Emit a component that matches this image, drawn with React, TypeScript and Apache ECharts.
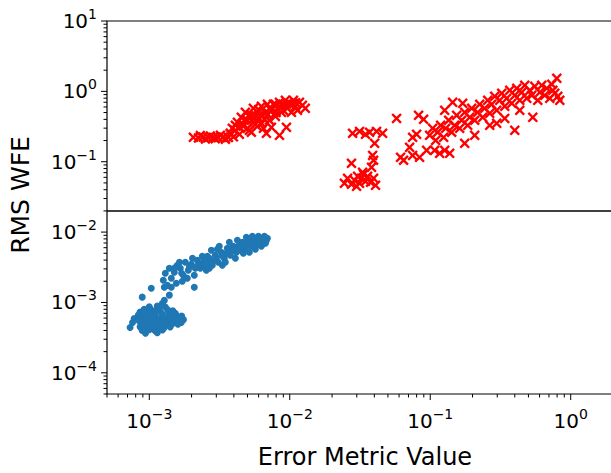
import React, { useEffect, useRef } from "react";
import * as echarts from "echarts";

const X_MIN = 5e-4;
const X_MAX = 2;
const Y_MIN = 5e-5;
const Y_MAX = 10;
const THRESHOLD = 0.02;

const xTitle = "Error Metric Value";
const yTitle = "RMS WFE";

const xMajorTicks = [1e-3, 1e-2, 1e-1, 1];
const xMinorTicks = [
  5e-4, 6e-4, 7e-4, 8e-4, 9e-4,
  2e-3, 3e-3, 4e-3, 5e-3, 6e-3, 7e-3, 8e-3, 9e-3,
  2e-2, 3e-2, 4e-2, 5e-2, 6e-2, 7e-2, 8e-2, 9e-2,
  2e-1, 3e-1, 4e-1, 5e-1, 6e-1, 7e-1, 8e-1, 9e-1,
  2,
];
const yMajorTicks = [1e-4, 1e-3, 1e-2, 1e-1, 1, 10];
const yMinorTicks = [
  5e-5, 6e-5, 7e-5, 8e-5, 9e-5,
  2e-4, 3e-4, 4e-4, 5e-4, 6e-4, 7e-4, 8e-4, 9e-4,
  2e-3, 3e-3, 4e-3, 5e-3, 6e-3, 7e-3, 8e-3, 9e-3,
  2e-2, 3e-2, 4e-2, 5e-2, 6e-2, 7e-2, 8e-2, 9e-2,
  2e-1, 3e-1, 4e-1, 5e-1, 6e-1, 7e-1, 8e-1, 9e-1,
  2, 3, 4, 5, 6, 7, 8, 9,
];

// Red "x" markers: left group
const redLeft: [number, number][] = [
  [2.06e-3, 0.222], [2.24e-3, 0.218], [2.42e-3, 0.224], [2.63e-3, 0.22], [2.86e-3, 0.223],
  [3.1e-3, 0.219], [3.37e-3, 0.225], [3.66e-3, 0.221], [3.97e-3, 0.226],
  [2.31e-3, 0.236], [2.72e-3, 0.232], [3.21e-3, 0.238], [3.78e-3, 0.25],
  [2.51e-3, 0.21], [2.95e-3, 0.212], [3.48e-3, 0.209],
  [3.78e-3, 0.253], [3.9e-3, 0.298], [4.1e-3, 0.279], [4.24e-3, 0.363], [4.38e-3, 0.245],
  [4.52e-3, 0.427], [4.67e-3, 0.318], [4.83e-3, 0.503], [4.99e-3, 0.388], [5.16e-3, 0.279],
  [5.33e-3, 0.456], [5.33e-3, 0.262], [5.51e-3, 0.574], [5.69e-3, 0.34], [5.88e-3, 0.503],
  [6.08e-3, 0.413], [6.28e-3, 0.612], [6.49e-3, 0.298], [6.71e-3, 0.487], [6.82e-3, 0.253],
  [6.93e-3, 0.654], [7.16e-3, 0.388], [7.4e-3, 0.537], [7.65e-3, 0.654], [7.9e-3, 0.441],
  [8.17e-3, 0.574], [8.45e-3, 0.698], [8.45e-3, 0.237], [8.72e-3, 0.503], [9.01e-3, 0.654],
  [9.31e-3, 0.745], [9.47e-3, 0.308], [9.62e-3, 0.574], [9.95e-3, 0.675], [1.028e-2, 0.503],
  [1.062e-2, 0.745], [1.098e-2, 0.612], [1.135e-2, 0.537], [1.172e-2, 0.698], [1.23e-2, 0.633],
  [1.29e-2, 0.574],
  [4.75e-3, 0.388], [5.6e-3, 0.413], [6.28e-3, 0.456], [7.16e-3, 0.574], [5.88e-3, 0.318],
  [4.99e-3, 0.298], [7.9e-3, 0.654], [9.01e-3, 0.537], [1.028e-2, 0.654], [4.38e-3, 0.308],
  [7.4e-3, 0.308], [4.6e-3, 0.35], [5.1e-3, 0.45], [5.5e-3, 0.36], [6.0e-3, 0.55],
  [6.6e-3, 0.4], [7.0e-3, 0.47], [8.0e-3, 0.5], [8.6e-3, 0.6], [9.5e-3, 0.66],
  [1.1e-2, 0.69], [4.1e-3, 0.33], [6.3e-3, 0.35],
];

// Red "x" markers: right group
const redRight: [number, number][] = [
  [0.0245, 0.0493], [0.0258, 0.0581], [0.0275, 0.0478], [0.0289, 0.0544], [0.0304, 0.062],
  [0.0314, 0.0493], [0.0324, 0.0581], [0.0335, 0.0662], [0.0346, 0.0527], [0.0358, 0.062],
  [0.0376, 0.051], [0.0395, 0.0581], [0.0408, 0.0462], [0.0299, 0.0447], [0.033, 0.0707],
  [0.0275, 0.0949], [0.0382, 0.0833], [0.0395, 0.105], [0.0389, 0.123], [0.0402, 0.1826],
  [0.028, 0.253], [0.0314, 0.27], [0.0346, 0.245], [0.037, 0.262], [0.0415, 0.27], [0.0458, 0.253],
  [0.0576, 0.413], [0.0615, 0.1155], [0.0646, 0.105], [0.0713, 0.1602], [0.0749, 0.123],
  [0.0749, 0.222], [0.08, 0.245], [0.0826, 0.456], [0.0897, 0.4], [0.084, 0.1155],
  [0.0943, 0.145], [0.1075, 0.145], [0.1167, 0.1316],
  [0.099, 0.237], [0.104, 0.298], [0.1093, 0.201], [0.1129, 0.262], [0.1186, 0.329],
  [0.1246, 0.222], [0.1288, 0.298], [0.1352, 0.388], [0.1421, 0.262], [0.1492, 0.329],
  [0.1542, 0.456], [0.162, 0.298], [0.1674, 0.388], [0.1759, 0.503], [0.1848, 0.329],
  [0.191, 0.427], [0.1973, 0.574], [0.2073, 0.388], [0.2177, 0.503], [0.2249, 0.654],
  [0.2363, 0.427], [0.2441, 0.574], [0.2566, 0.745], [0.2651, 0.487], [0.2739, 0.654],
  [0.2877, 0.849], [0.2973, 0.537], [0.3124, 0.745], [0.3228, 0.937], [0.3391, 0.612],
  [0.3504, 0.795], [0.3681, 1.033], [0.3804, 0.675], [0.3996, 0.877], [0.4129, 1.103],
  [0.4338, 0.745], [0.4483, 0.968], [0.4709, 1.217], [0.4867, 0.795], [0.5112, 1.033],
  [0.5283, 0.877], [0.5549, 1.178], [0.583, 0.745], [0.6024, 0.968], [0.6223, 1.217],
  [0.6539, 0.877], [0.6755, 1.103], [0.7096, 0.795], [0.7334, 1.257], [0.7702, 0.937],
  [0.7959, 1.53], [0.8091, 0.849], [0.8362, 0.745], [0.7455, 1.033],
  [0.1267, 0.537], [0.1444, 0.698], [0.1702, 0.675],
  [0.1267, 0.145], [0.1375, 0.1316], [0.1759, 0.1826], [0.2073, 0.237], [0.2973, 0.351],
  [0.3996, 0.279], [0.537, 0.427], [0.4338, 0.537], [0.3391, 0.413], [0.2651, 0.329],
];

// Blue dots: lower cluster
const blueLow: [number, number][] = [
  [1.28e-3, 1.07e-3], [1.24e-3, 9.75e-4],
  [1.0e-3, 8.7e-4], [1.14e-3, 8.9e-4], [1.3e-3, 8.6e-4],
  [9.2e-4, 8.0e-4], [1.03e-3, 7.9e-4], [1.18e-3, 8.1e-4], [1.35e-3, 7.9e-4], [1.47e-3, 7.6e-4],
  [8.6e-4, 7.3e-4], [9.7e-4, 7.2e-4], [1.09e-3, 7.3e-4], [1.22e-3, 7.1e-4], [1.37e-3, 7.3e-4], [1.53e-3, 7.0e-4],
  [8.35e-4, 6.6e-4], [9.05e-4, 6.5e-4], [1.0e-3, 6.6e-4], [1.1e-3, 6.5e-4], [1.24e-3, 6.7e-4],
  [1.39e-3, 6.5e-4], [1.55e-3, 6.6e-4], [1.7e-3, 6.4e-4],
  [7.8e-4, 5.9e-4], [8.77e-4, 6.0e-4], [9.68e-4, 5.9e-4], [1.07e-3, 6.1e-4], [1.18e-3, 5.9e-4],
  [1.3e-3, 6.0e-4], [1.43e-3, 5.8e-4], [1.6e-3, 6.0e-4], [1.75e-3, 5.7e-4],
  [8.5e-4, 5.4e-4], [9.4e-4, 5.5e-4], [1.03e-3, 5.3e-4], [1.14e-3, 5.4e-4], [1.26e-3, 5.5e-4],
  [1.39e-3, 5.3e-4], [1.53e-3, 5.4e-4], [1.69e-3, 5.2e-4],
  [8.9e-4, 4.9e-4], [9.85e-4, 5.0e-4], [1.09e-3, 4.8e-4], [1.2e-3, 4.9e-4], [1.32e-3, 4.8e-4],
  [1.46e-3, 5.0e-4], [1.6e-3, 4.9e-4],
  [7.3e-4, 4.4e-4], [8.6e-4, 4.5e-4], [9.5e-4, 4.4e-4], [1.05e-3, 4.5e-4], [1.16e-3, 4.3e-4],
  [1.28e-3, 4.4e-4], [1.41e-3, 4.5e-4],
  [8.9e-4, 4.0e-4], [1.0e-3, 4.1e-4], [1.1e-3, 3.95e-4], [1.24e-3, 4.05e-4],
  [9.4e-4, 3.65e-4], [1.14e-3, 3.7e-4],
  [7.6e-4, 5.2e-4], [1.12e-3, 7.7e-4], [1.45e-3, 6.2e-4],
];

// Blue dots: upper band
const blueHigh: [number, number][] = [
  [8.91e-4, 1.19e-3], [1.033e-3, 1.59e-3], [1.389e-3, 1.27e-3], [1.435e-3, 1.64e-3],
  [1.258e-3, 2.07e-3], [1.3e-3, 2.6e-3], [1.344e-3, 1.75e-3], [1.389e-3, 3.06e-3],
  [1.435e-3, 2.21e-3], [1.507e-3, 2.69e-3], [1.558e-3, 1.87e-3], [1.279e-3, 1.64e-3],
  [1.584e-3, 3.38e-3], [1.663e-3, 3.06e-3], [1.718e-3, 2.0e-3], [1.747e-3, 2.43e-3],
  [1.805e-3, 3.72e-3], [1.865e-3, 2.21e-3], [1.896e-3, 2.87e-3], [1.992e-3, 3.49e-3],
  [2.091e-3, 2.43e-3], [2.091e-3, 1.64e-3], [2.126e-3, 3.06e-3], [2.197e-3, 3.97e-3],
  [2.308e-3, 3.06e-3], [2.385e-3, 4.53e-3], [2.424e-3, 3.72e-3], [2.505e-3, 3.27e-3],
  [2.547e-3, 2.87e-3], [2.676e-3, 4.25e-3], [2.676e-3, 3.06e-3], [2.765e-3, 5.51e-3],
  [2.811e-3, 3.38e-3], [2.952e-3, 4.68e-3], [3.05e-3, 5.7e-3], [3.1e-3, 3.72e-3],
  [3.257e-3, 5.16e-3], [3.311e-3, 3.38e-3], [3.421e-3, 4.25e-3], [3.478e-3, 3.72e-3],
  [3.595e-3, 5.89e-3], [3.715e-3, 7.17e-3], [3.777e-3, 4.68e-3], [3.966e-3, 6.28e-3],
  [4.099e-3, 4.25e-3], [4.166e-3, 5.16e-3], [4.376e-3, 6.49e-3], [4.448e-3, 5.51e-3],
  [4.597e-3, 7.17e-3], [4.673e-3, 5.0e-3], [4.829e-3, 5.7e-3], [4.909e-3, 8.44e-3],
  [5.073e-3, 7.65e-3], [5.157e-3, 5.16e-3], [5.33e-3, 6.28e-3], [5.6e-3, 8.17e-3],
  [5.69e-3, 5.7e-3], [5.88e-3, 6.72e-3], [5.98e-3, 8.71e-3], [6.18e-3, 8.17e-3],
  [6.28e-3, 6.28e-3], [6.49e-3, 6.94e-3], [6.6e-3, 8.71e-3], [6.82e-3, 7.65e-3],
  [6.93e-3, 8.17e-3],
  [1.64e-3, 3.72e-3], [2.03e-3, 4.25e-3], [2.27e-3, 3.49e-3], [2.59e-3, 4.53e-3],
  [2.9e-3, 3.97e-3], [3.15e-3, 6.28e-3], [3.54e-3, 5.0e-3], [3.9e-3, 5.51e-3],
  [4.24e-3, 7.65e-3], [4.75e-3, 6.72e-3], [5.24e-3, 6.94e-3], [5.51e-3, 7.4e-3],
  [5.79e-3, 7.65e-3], [6.08e-3, 7.17e-3], [6.39e-3, 7.9e-3], [6.71e-3, 6.94e-3],
  [5.42e-3, 8.71e-3], [4.52e-3, 5.89e-3],
  [1.52e-3, 3.1e-3], [1.7e-3, 2.6e-3], [1.93e-3, 3.2e-3], [2.2e-3, 3.3e-3], [2.45e-3, 4.0e-3],
  [2.7e-3, 3.7e-3], [3.0e-3, 4.3e-3], [3.3e-3, 4.6e-3], [3.65e-3, 5.4e-3], [4.0e-3, 5.8e-3],
  [4.4e-3, 6.1e-3], [4.9e-3, 6.3e-3], [5.5e-3, 6.5e-3], [6.0e-3, 8.0e-3], [2.55e-3, 3.5e-3],
];

const FONT = "DejaVu Sans";
const X_SYMBOL =
  "path://M0,1.6 L1.6,0 L5,3.4 L8.4,0 L10,1.6 L6.6,5 L10,8.4 L8.4,10 L5,6.6 L1.6,10 L0,8.4 L3.4,5 Z";

function expLabel(v: number, majors: number[]): string {
  const isMajor = majors.some((m) => Math.abs(Math.log10(m) - Math.log10(v)) < 1e-6);
  if (!isMajor) return "";
  const e = Math.round(Math.log10(v));
  const s = e < 0 ? "\u2212" + String(-e) : String(e);
  return "{b|10}{s|" + s + "}";
}

const labelRich = {
  b: { fontSize: 20, fontFamily: FONT, color: "#000", padding: [4, 0, 4, 0] },
  s: { fontSize: 14, fontFamily: FONT, color: "#000", verticalAlign: "top" },
};

function tickSeries(values: number[], len: number, axis: "x" | "y") {
  return {
    type: "custom",
    coordinateSystem: "cartesian2d",
    silent: true,
    clip: false,
    z: 20,
    data: values.map((v) => (axis === "x" ? [v, Y_MIN] : [X_MIN, v])),
    renderItem: (_p: any, api: any) => {
      const pt = api.coord([api.value(0), api.value(1)]);
      const shape =
        axis === "x"
          ? { x1: pt[0], y1: pt[1], x2: pt[0], y2: pt[1] + len }
          : { x1: pt[0] - len, y1: pt[1], x2: pt[0], y2: pt[1] };
      return { type: "line", shape, style: { stroke: "#000", lineWidth: 1 } };
    },
  };
}

export default function App() {
  const ref = useRef<HTMLDivElement>(null);
  useEffect(() => {
    if (!ref.current) return;
    const chart = echarts.init(ref.current, undefined, { renderer: "svg" });
    chart.setOption({
      animation: false,
      backgroundColor: "#fff",
      grid: {
        left: 107,
        top: 21,
        width: 506,
        height: 373,
        show: true,
        borderColor: "#000",
        borderWidth: 1.2,
        backgroundColor: "transparent",
        outerBoundsMode: "none",
        containLabel: false,
      },
      xAxis: {
        type: "log",
        logBase: 10,
        min: X_MIN,
        max: X_MAX,
        axisLine: { show: false },
        axisTick: { show: false },
        splitLine: { show: false },
        axisLabel: {
          margin: 13,
          formatter: (v: number) => expLabel(v, xMajorTicks),
          rich: labelRich,
        },
      },
      yAxis: {
        type: "log",
        logBase: 10,
        min: Y_MIN,
        max: Y_MAX,
        axisLine: { show: false },
        axisTick: { show: false },
        splitLine: { show: false },
        axisLabel: {
          margin: 10,
          formatter: (v: number) => expLabel(v, yMajorTicks),
          rich: labelRich,
        },
      },
      graphic: [
        {
          type: "text",
          x: 365,
          y: 457,
          style: {
            text: xTitle,
            fontSize: 24,
            fontFamily: FONT,
            fill: "#000",
            align: "center",
            verticalAlign: "middle",
          },
        },
        {
          type: "text",
          x: 20,
          y: 195,
          rotation: Math.PI / 2,
          style: {
            text: yTitle,
            fontSize: 25,
            fontFamily: FONT,
            fill: "#000",
            align: "center",
            verticalAlign: "middle",
          },
        },
      ],
      series: [
        {
          type: "scatter",
          name: "fail",
          data: [...redLeft, ...redRight],
          symbol: X_SYMBOL,
          symbolSize: 10.5,
          itemStyle: { color: "#ff0000", opacity: 1 },
          z: 5,
          markLine: {
            silent: true,
            symbol: ["none", "none"],
            label: { show: false },
            lineStyle: { color: "#000", width: 1.5, type: "solid" },
            data: [{ yAxis: THRESHOLD }],
          },
        },
        {
          type: "scatter",
          name: "pass",
          data: [...blueLow, ...blueHigh],
          symbol: "circle",
          symbolSize: 7,
          itemStyle: { color: "#1f77b4", opacity: 1 },
          z: 5,
        },
        tickSeries(xMajorTicks, 6, "x"),
        tickSeries(xMinorTicks, 3.5, "x"),
        tickSeries(yMajorTicks, 6, "y"),
        tickSeries(yMinorTicks, 3.5, "y"),
      ],
    });
    return () => chart.dispose();
  }, []);
  return (
    <div
      ref={ref}
      style={{ position: "fixed", left: 0, top: 0, width: 611, height: 473 }}
    />
  );
}
